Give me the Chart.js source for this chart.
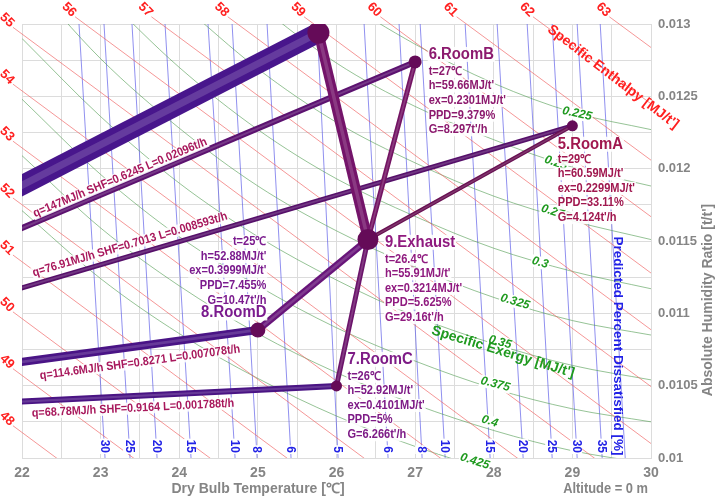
<!DOCTYPE html>
<html>
<head>
<meta charset="utf-8">
<script src="https://cdn.jsdelivr.net/npm/chart.js@4.4.0/dist/chart.umd.min.js"></script>
<style>
  html, body { margin: 0; padding: 0; background: #fff; }
  #wrap { width: 718px; height: 499px; }
</style>
</head>
<body>
<div id="wrap"><canvas id="psyChart" width="718" height="499"></canvas></div>
<script>
// ---- values ----
// specific enthalpy lines [MJ/t'], each as a start (near its label) and an end (past the plot edge)
const enthalpyValues = [48, 49, 50, 51, 52, 53, 54, 55, 56, 57, 58, 59, 60, 61, 62, 63];
const enthalpyStartT = [21.885, 21.885, 21.885, 21.885, 21.885, 21.885, 21.885, 21.885, 22.675, 23.646, 24.617, 25.587, 26.558, 27.528, 28.499, 29.470];
const enthalpyStartW = [0.010223, 0.010617, 0.011010, 0.011403, 0.011797, 0.012190, 0.012584, 0.012977, 0.01305, 0.01305, 0.01305, 0.01305, 0.01305, 0.01305, 0.01305, 0.01305];
const enthalpyEndT = [23.68, 24.66, 25.63, 26.61, 27.59, 28.56, 29.54, 30.52, 31.49, 32.47, 33.45, 34.43, 35.40, 36.38, 37.36, 38.33];
const enthalpyEndW = [0.0095, 0.0095, 0.0095, 0.0095, 0.0095, 0.0095, 0.0095, 0.0095, 0.0095, 0.0095, 0.0095, 0.0095, 0.0095, 0.0095, 0.0095, 0.0095];

// specific exergy curves [MJ/t'], points [t, w]
const exergyValues = ['0.225', '0.25', '0.275', '0.3', '0.325', '0.35', '0.375', '0.4', '0.425'];
const exergyCurves = [
  [[25, 0.01365], [26, 0.01320], [27, 0.01286], [28, 0.01259], [29, 0.01239], [30, 0.01227]],
  [[24, 0.01365], [25, 0.01314], [26, 0.01273], [27, 0.01243], [28, 0.01220], [29, 0.01201], [30, 0.01188]],
  [[24, 0.01315], [25, 0.01269], [26, 0.01232], [27, 0.01204], [28, 0.01181], [29, 0.01164], [30, 0.01151]],
  [[23, 0.01322], [24, 0.01270], [25, 0.01227], [26, 0.01193], [27, 0.01167], [28, 0.01145], [29, 0.01129], [30, 0.01117]],
  [[22, 0.01336], [23, 0.01276], [24, 0.01228], [25, 0.01188], [26, 0.01157], [27, 0.01132], [28, 0.01111], [29, 0.01095], [30, 0.01085]],
  [[22, 0.01290], [23, 0.01236], [24, 0.01190], [25, 0.01153], [26, 0.01123], [27, 0.01098], [28, 0.01079], [29, 0.01064], [30, 0.01054]],
  [[22, 0.01248], [23, 0.01196], [24, 0.01153], [25, 0.01119], [26, 0.01090], [27, 0.01067], [28, 0.01048], [29, 0.01034], [30, 0.01025]],
  [[22, 0.01209], [23, 0.01159], [24, 0.01119], [25, 0.01086], [26, 0.01059], [27, 0.01037], [28, 0.01019], [29, 0.01005], [30, 0.00996]],
  [[22, 0.01171], [23, 0.01124], [24, 0.01086], [25, 0.01055], [26, 0.01029], [27, 0.01008], [28, 0.00991], [29, 0.00978], [30, 0.00969]]
];
const exergyLabelT = [29.06, 28.79, 28.79, 28.59, 28.27, 28.08, 28.02, 27.95, 27.76];
const exergyLabelW = [0.01238, 0.01204, 0.011696, 0.01135, 0.01108, 0.0108, 0.01051, 0.010253, 0.009977];

// predicted percent dissatisfied lines [%], t at the top (w=0.013) and bottom (w=0.01)
const ppdValues = ['30', '25', '20', '15', '10', '8', '6', '5', '6', '8', '10', '15', '20', '25', '30', '35', ''];
const ppdTopT = [22.725, 23.043, 23.399, 23.819, 24.366, 24.672, 25.117, 25.753, 26.351, 26.796, 27.064, 27.636, 28.043, 28.425, 28.743, 29.061, 29.354];
const ppdBottomT = [23.056, 23.374, 23.718, 24.150, 24.710, 24.990, 25.422, 26.020, 26.656, 27.089, 27.382, 27.954, 28.374, 28.743, 29.061, 29.379, 29.672];

// air states
const stateNames = ['6.RoomB', '5.RoomA', '7.RoomC', '8.RoomD', '9.Exhaust'];
const stateT = [27, 29, 26, 25, 26.4];
const stateW = [0.012738, 0.012296, 0.010498, 0.010885, 0.01151];
const stateH = ['59.66', '60.59', '52.92', '52.88', '55.91'];
const stateEx = ['0.2301', '0.2299', '0.4101', '0.3999', '0.3214'];
const statePPD = ['9.379', '33.11', '5', '7.455', '5.625'];
const stateG = ['8.297', '4.124', '6.266', '10.47', '29.16'];
const stateTLabel = ['27', '29', '26', '25', '26.4'];

// supply state (off the plot, lower left) and the upper junction point
const supplyT = 16.08, supplyW = 0.01023;
const junctionT = 25.77, junctionW = 0.01294;

// room load texts along the supply lines (RoomB, RoomA, RoomD, RoomC)
const loadRooms = [0, 1, 3, 2];
const loadTexts = [
  'q=147MJ/h SHF=0.6245 L=0.02096t/h',
  'q=76.91MJ/h SHF=0.7013 L=0.008593t/h',
  'q=114.6MJ/h SHF=0.8271 L=0.007078t/h',
  'q=68.78MJ/h SHF=0.9164 L=0.001788t/h'
];
const loadLabelT = [23.247, 23.374, 23.501, 23.412];
const loadLabelW = [0.011937, 0.011475, 0.010660, 0.010343];

// ---- styles ----
const FONT = '"Liberation Sans", Arial, sans-serif';
const RED = 'rgba(240,95,95,0.65)';
const GREEN = 'rgba(80,155,80,0.6)';
const BLUE = 'rgba(85,85,230,0.65)';
const stateColors = ['#8c1a6e', '#a0184f', '#7d1b86', '#7b1b8e', '#8f1a7f'];
const stateRadius = [6.5, 5.5, 5.5, 7.5, 10.5];
const labelLayout = [
  { dx: 13.5, titleDy: -7.5, detailDy: 9.5, align: 'left' },
  { dx: -14.6, titleDy: 18.4, detailDy: 33.4, align: 'left' },
  { dx: 11, titleDy: -26.6, detailDy: -9.6, align: 'left' },
  { dx: 8.5, titleDy: -17, detailDy: -88, align: 'right' },
  { dx: 17, titleDy: 2.7, detailDy: 19.7, align: 'left' }
];

const datasets = [];
function addLine(pts, color, width, order, extra) {
  datasets.push(Object.assign({
    data: pts.map(p => ({ x: p[0], y: p[1] })),
    showLine: true, borderColor: color, borderWidth: width,
    pointRadius: 0, pointHoverRadius: 0, order: order, tension: 0
  }, extra || {}));
}
// a purple pipe: dark body plus a soft light streak along its middle
function addPipe(pts, color, width, order) {
  addLine(pts, 'rgba(255,255,255,0.16)', Math.max(1.5, width * 0.35), order - 0.5, { clip: 0 });
  addLine(pts, color, width, order, { clip: 0 });
}

// background guide lines
enthalpyValues.forEach((h, i) => {
  addLine([[enthalpyStartT[i], enthalpyStartW[i]], [enthalpyEndT[i], enthalpyEndW[i]]], RED, 1, 100,
    { clip: { left: 12, top: 10, right: 0, bottom: 0 } });
});
datasets[0].guideEnd = true;
exergyCurves.forEach(c => addLine(c, GREEN, 1, 100, { cubicInterpolationMode: 'monotone', clip: 0 }));
ppdTopT.forEach((t, i) => addLine([[t, 0.013], [ppdBottomT[i], 0.01]], BLUE, 1, 100, { clip: 0 }));

// supply lines (junction band, RoomB, RoomA, RoomD, RoomC)
addPipe([[supplyT, supplyW], [junctionT, junctionW]], '#48168c', 20, 4);
addPipe([[supplyT, supplyW], [stateT[0], stateW[0]]], '#5c1270', 6, 4);
addPipe([[supplyT, supplyW], [stateT[1], stateW[1]]], '#56106a', 5, 4);
addPipe([[supplyT, supplyW], [stateT[3], stateW[3]]], '#4a1486', 8, 4);
addPipe([[supplyT, supplyW], [stateT[2], stateW[2]]], '#4a1484', 6, 4);
// lines into the exhaust
addPipe([[stateT[4], stateW[4]], [junctionT, junctionW]], '#74146a', 10, 3);
addPipe([[stateT[0], stateW[0]], [stateT[4], stateW[4]]], '#731363', 5, 3);
addPipe([[stateT[1], stateW[1]], [stateT[4], stateW[4]]], '#681052', 4, 3);
addPipe([[stateT[3], stateW[3]], [stateT[4], stateW[4]]], '#68157a', 7, 3);
addPipe([[stateT[2], stateW[2]], [stateT[4], stateW[4]]], '#6b146b', 5, 3);
// state points
datasets.push({
  data: stateT.map((t, i) => ({ x: t, y: stateW[i] })).concat([{ x: junctionT, y: junctionW }]),
  showLine: false, pointRadius: stateRadius.concat([11]), pointHoverRadius: 0,
  pointBackgroundColor: '#650b58', pointBorderWidth: 0, order: 1, clip: 0
});

function drawText(ctx, txt, x, y, o) {
  ctx.save();
  ctx.translate(x, y);
  if (o.rot) ctx.rotate(o.rot * Math.PI / 180);
  if (o.sx) ctx.scale(o.sx, 1);
  ctx.font = o.font;
  ctx.textAlign = o.align || 'center';
  ctx.textBaseline = 'middle';
  if (o.bg) {
    const w = ctx.measureText(txt).width;
    const h = o.bh || 13;
    const x0 = ctx.textAlign === 'center' ? -w / 2 : ctx.textAlign === 'right' ? -w : 0;
    ctx.fillStyle = o.bg;
    ctx.fillRect(x0 - 1, -h / 2, w + 2, h);
  }
  ctx.fillStyle = o.color;
  ctx.fillText(txt, 0, 0);
  ctx.restore();
}

function pix(chart, t, w) {
  return [chart.scales.x.getPixelForValue(t), chart.scales.y.getPixelForValue(w)];
}

function drawGuideLabels(chart) {
  const ctx = chart.ctx;
  enthalpyValues.forEach((h, i) => {
    const p = pix(chart, enthalpyStartT[i], enthalpyStartW[i]);
    drawText(ctx, String(h), p[0] - 6, p[1] - 7, { font: 'bold 13px ' + FONT, color: '#ff2020', rot: 45 });
  });
  exergyValues.forEach((v, i) => {
    const c = exergyCurves[i];
    const t = exergyLabelT[i];
    let k = 0;
    while (k < c.length - 2 && c[k + 1][0] < t) k++;
    const a = pix(chart, c[k][0], c[k][1]), b = pix(chart, c[k + 1][0], c[k + 1][1]);
    const rot = Math.atan2(b[1] - a[1], b[0] - a[0]) * 180 / Math.PI;
    const p = pix(chart, t, exergyLabelW[i]);
    drawText(ctx, v, p[0], p[1], { font: 'italic bold 12px ' + FONT, color: '#1f9a1f', rot: rot, bg: '#fff', bh: 12 });
  });
  ppdValues.forEach((v, i) => {
    if (!v) return;
    const p = pix(chart, ppdBottomT[i], 0.01);
    drawText(ctx, v, p[0] - 1, p[1] - 5, { font: 'bold 12px ' + FONT, color: '#2222e6', rot: 90, align: 'right', bg: '#fff', bh: 12 });
  });
  drawText(ctx, "Specific Enthalpy [MJ/t']", 613, 77, { font: 'bold 14px ' + FONT, color: '#ff2020', rot: 37.5 });
  drawText(ctx, "Specific Exergy [MJ/t']", 503, 352, { font: 'bold 14px ' + FONT, color: '#1f9a1f', rot: 17 });
  drawText(ctx, 'Predicted Percent Dissatisfied [%]', 618, 346, { font: 'bold 13.5px ' + FONT, color: '#2222e6', rot: 90 });
}

function drawStateLabels(chart) {
  const ctx = chart.ctx;
  loadTexts.forEach((txt, i) => {
    const r = loadRooms[i];
    const a = pix(chart, supplyT, supplyW), b = pix(chart, stateT[r], stateW[r]);
    const rot = Math.atan2(b[1] - a[1], b[0] - a[0]) * 180 / Math.PI;
    const p = pix(chart, loadLabelT[i], loadLabelW[i]);
    drawText(ctx, txt, p[0], p[1], { font: 'bold 12px ' + FONT, color: '#a8185c', rot: rot, sx: 0.9, bg: 'rgba(255,255,255,0.85)', bh: 12 });
  });
  stateNames.forEach((name, i) => {
    const L = labelLayout[i];
    const p = pix(chart, stateT[i], stateW[i]);
    const x = p[0] + L.dx;
    const lines = ['t=' + stateTLabel[i] + '℃', 'h=' + stateH[i] + "MJ/t'", 'ex=' + stateEx[i] + "MJ/t'",
      'PPD=' + statePPD[i] + '%', 'G=' + stateG[i] + "t'/h"];
    lines.forEach((s, j) => {
      drawText(ctx, s, x, p[1] + L.detailDy + j * 14.6, { font: 'bold 12px ' + FONT, color: stateColors[i], align: L.align, sx: 0.92, bg: 'rgba(255,255,255,0.9)', bh: 13 });
    });
    drawText(ctx, name, x, p[1] + L.titleDy, { font: 'bold 16px ' + FONT, color: stateColors[i], align: L.align, sx: 0.93, bg: 'rgba(255,255,255,0.9)', bh: 15 });
  });
}

function drawAxisTitles(chart) {
  const ctx = chart.ctx;
  drawText(ctx, 'Dry Bulb Temperature [℃]', 258, 489, { font: 'bold 14px ' + FONT, color: '#858585' });
  drawText(ctx, 'Altitude = 0 m', 648, 489, { font: 'bold 14px ' + FONT, color: '#858585', align: 'right', sx: 0.92 });
  drawText(ctx, "Absolute Humidity Ratio [t/t']", 708, 300, { font: 'bold 14px ' + FONT, color: '#858585', rot: -90 });
}

const overlay = {
  id: 'overlay',
  afterDatasetDraw(chart, args) {
    if (chart.data.datasets[args.index].guideEnd) drawGuideLabels(chart);
  },
  afterDatasetsDraw(chart) { drawStateLabels(chart); },
  afterDraw(chart) { drawAxisTitles(chart); }
};

Chart.defaults.font.family = FONT;
new Chart(document.getElementById('psyChart').getContext('2d'), {
  type: 'scatter',
  data: { datasets: datasets },
  options: {
    responsive: false,
    animation: false,
    devicePixelRatio: 1,
    layout: { padding: { left: 22, top: 24, right: 0, bottom: 0 } },
    plugins: { legend: { display: false }, tooltip: { enabled: false } },
    events: [],
    scales: {
      x: {
        type: 'linear', min: 22, max: 30,
        ticks: {
          stepSize: 0.5, autoSkip: false, maxRotation: 0, padding: 7,
          color: '#858585', font: { size: 14, weight: 'bold' },
          callback: v => Number.isInteger(v) ? String(v) : ''
        },
        grid: { color: '#dcdcdc', drawTicks: false },
        border: { color: '#dcdcdc' },
        afterFit(scale) { scale.height = 41; }
      },
      y: {
        type: 'linear', position: 'right', min: 0.01, max: 0.013,
        ticks: {
          stepSize: 0.00025, autoSkip: false, padding: 7,
          color: '#858585', font: { size: 13, weight: 'bold' },
          callback: v => Math.round(v / 0.00025) % 2 === 0 ? String(parseFloat(v.toFixed(5))) : ''
        },
        grid: { color: '#dcdcdc', drawTicks: false },
        border: { color: '#dcdcdc' },
        afterFit(scale) { scale.width = 67; }
      }
    }
  },
  plugins: [overlay]
});
</script>
</body>
</html>
